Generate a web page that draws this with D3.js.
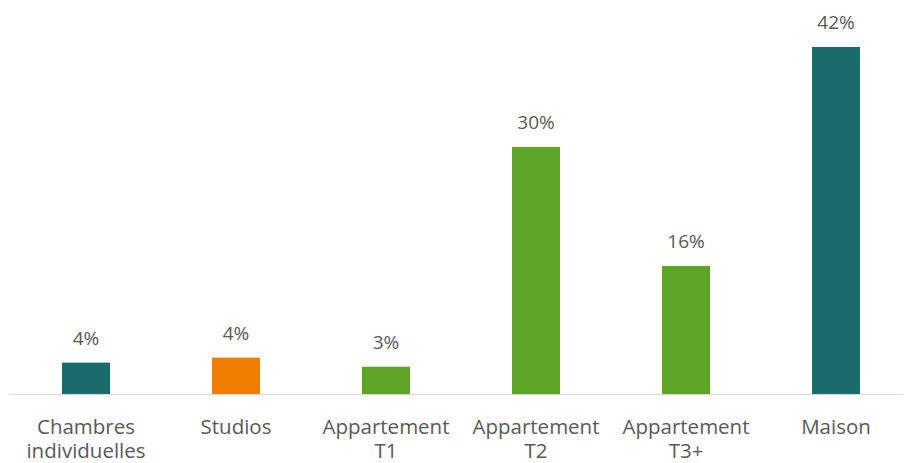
<!DOCTYPE html>
<html>
<head>
<meta charset="utf-8">
<script src="https://cdn.jsdelivr.net/npm/d3@7"></script>
<style>
  body { margin: 0; background: #fff; }
  svg text { font-family: "Open Sans", "Liberation Sans", sans-serif; fill: #595959; }
</style>
</head>
<body>
<div id="chart"></div>
<script>
// data
var categories = ["Chambres individuelles", "Studios", "Appartement T1", "Appartement T2", "Appartement T3+", "Maison"];
var labelLines = [["Chambres", "individuelles"], ["Studios"], ["Appartement", "T1"], ["Appartement", "T2"], ["Appartement", "T3+"], ["Maison"]];
var values = [3.8, 4.4, 3.3, 29.9, 15.5, 42.0];
var valueLabels = ["4%", "4%", "3%", "30%", "16%", "42%"];
var colors = ["#1a6b6b", "#f07d00", "#5da526", "#5da526", "#5da526", "#1a6b6b"];

var width = 904, height = 463;
var margin = {top: 47, bottom: 69, left: 11};
// category step is 150px, last band runs a bit past the right edge
var plotRight = margin.left + 150 * categories.length;

var svg = d3.select("#chart").append("svg")
    .attr("width", width)
    .attr("height", height);

var x = d3.scaleBand()
    .domain(categories)
    .range([margin.left, plotRight])
    .paddingInner(0.68)
    .paddingOuter(0.34);

var y = d3.scaleLinear()
    .domain([0, 42])
    .range([height - margin.bottom, margin.top]);

// bars
svg.selectAll("rect.bar")
    .data(categories)
    .enter().append("rect")
    .attr("class", "bar")
    .attr("x", function(d) { return x(d); })
    .attr("y", function(d, i) { return y(values[i]); })
    .attr("width", x.bandwidth())
    .attr("height", function(d, i) { return y(0) - y(values[i]); })
    .attr("fill", function(d, i) { return colors[i]; });

// baseline
svg.append("line")
    .attr("x1", margin.left - 1)
    .attr("x2", width - 1)
    .attr("y1", y(0) + 0.5)
    .attr("y2", y(0) + 0.5)
    .attr("stroke", "#d9d9d9")
    .attr("stroke-width", 1);

// value labels
svg.selectAll("text.val")
    .data(categories)
    .enter().append("text")
    .attr("class", "val")
    .attr("x", function(d) { return x(d) + x.bandwidth() / 2; })
    .attr("y", function(d, i) { return y(values[i]) - 18; })
    .attr("text-anchor", "middle")
    .style("font-size", "19px")
    .text(function(d, i) { return valueLabels[i]; });

// category labels, one text per line
var cat = svg.selectAll("g.cat")
    .data(categories)
    .enter().append("g")
    .attr("class", "cat")
    .attr("transform", function(d) { return "translate(" + (x(d) + x.bandwidth() / 2) + "," + (y(0) + 40) + ")"; });

cat.selectAll("text")
    .data(function(d, i) { return labelLines[i]; })
    .enter().append("text")
    .attr("x", 0)
    .attr("y", function(d, j) { return j * 24; })
    .attr("text-anchor", "middle")
    .style("font-size", "20.5px")
    .text(function(d) { return d; });
</script>
</body>
</html>
